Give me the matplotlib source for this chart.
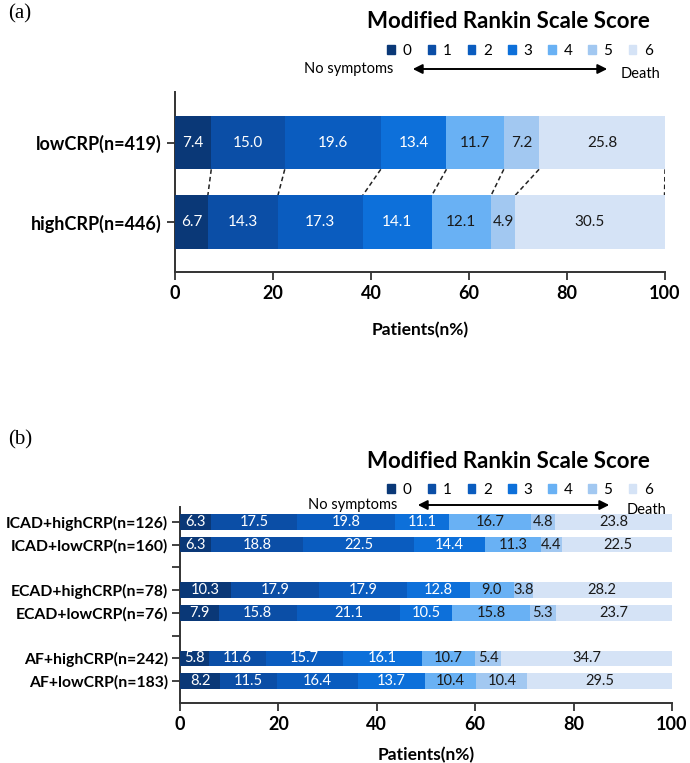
import matplotlib
matplotlib.use("Agg")
import matplotlib.pyplot as plt
import matplotlib.patches as mpatches
import numpy as np

plt.rcParams.update({
    "font.family": ["Lato", "DejaVu Sans"],
    "axes.spines.top": False,
    "axes.spines.right": False,
})

# ── Data ──────────────────────────────────────────────────────────────────────
MRS_LABELS = ["0", "1", "2", "3", "4", "5", "6"]
COLORS = ["#0a3877", "#0b4ea6", "#0a5cbf", "#0d70da", "#69b1f4", "#a2c8f1", "#d5e3f6"]
TEXT_COLORS = ["white", "white", "white", "white", "#1a1a1a", "#1a1a1a", "#1a1a1a"]

A_GROUPS = ["lowCRP(n=419)", "highCRP(n=446)"]
A_LOW = [7.4, 15.0, 19.6, 13.4, 11.7, 7.2, 25.8]
A_HIGH = [6.7, 14.3, 17.3, 14.1, 12.1, 4.9, 30.5]

B_GROUPS = ["ICAD+highCRP(n=126)", "ICAD+lowCRP(n=160)",
            "ECAD+highCRP(n=78)", "ECAD+lowCRP(n=76)",
            "AF+highCRP(n=242)", "AF+lowCRP(n=183)"]
B_ICAD_HIGH = [6.3, 17.5, 19.8, 11.1, 16.7, 4.8, 23.8]
B_ICAD_LOW = [6.3, 18.8, 22.5, 14.4, 11.3, 4.4, 22.5]
B_ECAD_HIGH = [10.3, 17.9, 17.9, 12.8, 9.0, 3.8, 28.2]
B_ECAD_LOW = [7.9, 15.8, 21.1, 10.5, 15.8, 5.3, 23.7]
B_AF_HIGH = [5.8, 11.6, 15.7, 16.1, 10.7, 5.4, 34.7]
B_AF_LOW = [8.2, 11.5, 16.4, 13.7, 10.4, 10.4, 29.5]

XTICKS = [0, 20, 40, 60, 80, 100]

W, H = 690, 763
fig = plt.figure(figsize=(W / 100, H / 100), dpi=100)


def px_axes(left, right, top, bottom):
    return fig.add_axes([left / W, 1 - bottom / H, (right - left) / W, (bottom - top) / H])


def stacked_row(ax, y, vals, height, fontsize):
    lefts = np.concatenate([[0], np.cumsum(vals)[:-1]])
    for v, l, c, tc in zip(vals, lefts, COLORS, TEXT_COLORS):
        ax.barh(y, v, left=l, height=height, color=c, edgecolor="none", zorder=3)
        ax.text(l + v / 2, y, f"{v:.1f}", ha="center", va="center",
                fontsize=fontsize, color=tc, zorder=4)
    return np.cumsum(vals)


def style_axes(ax, ticklabel_size, labelpad):
    for s in ("left", "bottom"):
        ax.spines[s].set_color("#333333")
        ax.spines[s].set_linewidth(1.4)
    ax.set_xlim(0, 100)
    ax.set_xticks(XTICKS)
    ax.set_xticklabels([str(t) for t in XTICKS], fontsize=ticklabel_size, fontweight="bold")
    ax.tick_params(axis="both", direction="out", length=6, width=1.3, color="#333333")
    ax.set_xlabel("Patients(n%)", fontsize=12.5, fontweight="bold", labelpad=labelpad)


def header(title_y, legend_y, arrow_y, arrow_x0, arrow_x1, left_txt_x, right_txt_x):
    fig.text(508 / W, 1 - title_y / H, "Modified Rankin Scale Score",
             ha="center", va="center", fontsize=16, fontweight="bold")
    handles = [mpatches.Patch(color=c, label=l) for c, l in zip(COLORS, MRS_LABELS)]
    fig.legend(handles=handles, loc="center", ncol=7, frameon=False,
               bbox_to_anchor=(520 / W, 1 - legend_y / H), fontsize=11,
               handlelength=0.5, handleheight=0.5, handletextpad=0.5,
               columnspacing=1.05)
    fig.add_artist(mpatches.FancyArrowPatch(
        (arrow_x0 / W, 1 - arrow_y / H), (arrow_x1 / W, 1 - arrow_y / H),
        transform=fig.transFigure, arrowstyle="<|-|>", mutation_scale=14,
        color="black", linewidth=1.4))
    fig.text(left_txt_x / W, 1 - arrow_y / H, "No symptoms", ha="left",
             va="center", fontsize=10.5)
    fig.text(right_txt_x / W, 1 - arrow_y / H - 0.006, "Death", ha="left",
             va="center", fontsize=10.5)


# ── Panel (a) ─────────────────────────────────────────────────────────────────
fig.text(8 / W, 1 - 14 / H, "(a)", fontsize=15, family="Liberation Serif",
         ha="left", va="center")
header(22, 51, 69, 410, 610, 304, 621)

ax_a = px_axes(175, 665, 92, 272)
bar_h_a = 0.67
cum_low = stacked_row(ax_a, 1, A_LOW, bar_h_a, 11)
cum_high = stacked_row(ax_a, 0, A_HIGH, bar_h_a, 11)
for cl, ch in zip(cum_low, cum_high):
    ax_a.plot([min(cl, 100), min(ch, 100)], [1 - bar_h_a / 2, bar_h_a / 2],
              ls=(0, (3, 2)), color="#222222", lw=1.1, zorder=2)
ax_a.set_ylim(-0.63, 1.64)
ax_a.set_yticks([1, 0])
ax_a.set_yticklabels(A_GROUPS, fontsize=13, fontweight="bold")
style_axes(ax_a, 13, 14)

# ── Panel (b) ─────────────────────────────────────────────────────────────────
fig.text(8 / W, 1 - 440 / H, "(b)", fontsize=15, family="Liberation Serif",
         ha="left", va="center")
header(462, 490, 505, 415, 612, 308, 627)

ax_b = px_axes(180, 672, 507, 703)
b_rows = [B_ICAD_HIGH, B_ICAD_LOW, B_ECAD_HIGH, B_ECAD_LOW, B_AF_HIGH, B_AF_LOW]
b_pos = [7, 6, 4, 3, 1, 0]
bar_h_b = 0.68
for y, vals in zip(b_pos, b_rows):
    stacked_row(ax_b, y, vals, bar_h_b, 10.5)
ax_b.set_ylim(-0.97, 7.66)
ax_b.set_yticks([7, 6, 5, 4, 3, 2, 1, 0])
ax_b.set_yticklabels([B_GROUPS[0], B_GROUPS[1], "", B_GROUPS[2], B_GROUPS[3], "",
                      B_GROUPS[4], B_GROUPS[5]], fontsize=11.3, fontweight="bold")
ax_b.tick_params(axis="y", pad=2.5)
style_axes(ax_b, 13, 10)

fig.savefig("out.png", dpi=100)
